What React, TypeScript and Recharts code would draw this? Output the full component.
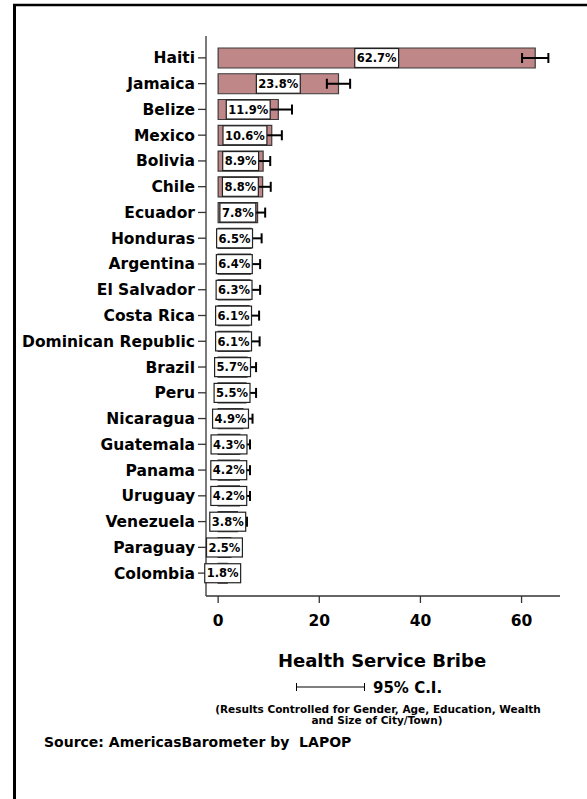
import React from 'react';
import { BarChart, Bar, XAxis, YAxis, ErrorBar, LabelList } from 'recharts';

const countries = [
  'Haiti', 'Jamaica', 'Belize', 'Mexico', 'Bolivia', 'Chile', 'Ecuador', 'Honduras',
  'Argentina', 'El Salvador', 'Costa Rica', 'Dominican Republic', 'Brazil', 'Peru',
  'Nicaragua', 'Guatemala', 'Panama', 'Uruguay', 'Venezuela', 'Paraguay', 'Colombia',
];
const bribeValues = [
  62.7, 23.8, 11.9, 10.6, 8.9, 8.8, 7.8, 6.5, 6.4, 6.3, 6.1, 6.1, 5.7, 5.5, 4.9, 4.3, 4.2, 4.2, 3.8, 2.5, 1.8,
];
const ciHalfWidths = [
  2.6, 2.3, 2.7, 2.0, 1.4, 1.6, 1.5, 2.1, 1.9, 2.0, 2.0, 2.1, 1.8, 2.0, 1.9, 2.0, 2.1, 2.1, 1.9, 1.4, 1.1,
];
const xTicks = [0, 20, 40, 60];

const data = countries.map((name, i) => ({ name, value: bribeValues[i], err: ciHalfWidths[i] }));

const FONT = '"DejaVu Sans", sans-serif';

const charW: Record<string, number> = { '.': 0.38, '%': 1.002 };
const textWidth = (s: string, size: number) =>
  s.split('').reduce((acc, c) => acc + (charW[c] ?? 0.696), 0) * size;

const ValueBox = (props: any) => {
  const vb = props.viewBox && props.viewBox.width !== undefined ? props.viewBox : props;
  const { x, y, width, height } = vb;
  const value = props.value;
  if (x == null || value == null) return null;
  const label = `${Number(value).toFixed(1)}%`;
  const bw = textWidth(label, 11.5) + 4;
  const cx = x + width / 2;
  return (
    <g>
      <rect x={cx - bw / 2} y={y + 0.5} width={bw} height={height - 1} fill="#ffffff" stroke="#222" strokeWidth={1.2} />
      <text
        x={cx}
        y={y + height / 2}
        dy="0.37em"
        textAnchor="middle"
        fontSize={11.5}
        fontWeight="bold"
        fontFamily={FONT}
        fill="#000"
      >
        {label}
      </text>
    </g>
  );
};

export default function App() {
  return (
    <div style={{ position: 'absolute', left: 0, top: 0, width: 587, height: 799, background: '#fff', overflow: 'hidden' }}>
      <BarChart
        width={587}
        height={799}
        data={data}
        layout="vertical"
        margin={{ top: 36, right: 27, bottom: 163, left: 10 }}
        barCategoryGap={0}
      >
        <XAxis
          type="number"
          domain={[-2.4, 67.6]}
          ticks={xTicks}
          allowDataOverflow
          height={40}
          tickSize={7}
          tickMargin={12}
          axisLine={{ stroke: '#333', strokeWidth: 1.3 }}
          tickLine={{ stroke: '#333', strokeWidth: 1.3 }}
          tick={{ fontSize: 15.5, fontWeight: 'bold', fill: '#000', fontFamily: FONT }}
        />
        <YAxis
          type="category"
          dataKey="name"
          width={196}
          padding={{ top: 9, bottom: 10 }}
          interval={0}
          tickSize={8}
          tickMargin={3}
          axisLine={{ stroke: '#333', strokeWidth: 1.3 }}
          tickLine={{ stroke: '#333', strokeWidth: 1.3 }}
          tick={{ fontSize: 15.5, fontWeight: 'bold', fill: '#000', fontFamily: FONT }}
        />
        <Bar dataKey="value" fill="#BF8787" stroke="#3a3a3a" strokeWidth={1.2} barSize={20} isAnimationActive={false}>
          <ErrorBar dataKey="err" direction="x" width={5} stroke="#000" strokeWidth={2} isAnimationActive={false} />
          <LabelList dataKey="value" content={ValueBox} />
        </Bar>
      </BarChart>
      <svg width={587} height={799} style={{ position: 'absolute', left: 0, top: 0, pointerEvents: 'none' }}>
        <line x1={14.5} y1={4} x2={14.5} y2={799} stroke="#000" strokeWidth={3} />
        <line x1={13} y1={5} x2={587} y2={5} stroke="#000" strokeWidth={2.5} />
        <text x={382} y={667} textAnchor="middle" fontSize={18} fontWeight="bold" fontFamily={FONT} fill="#000">
          Health Service Bribe
        </text>
        <line x1={296} y1={687} x2={365} y2={687} stroke="#000" strokeWidth={1} />
        <line x1={296.5} y1={683} x2={296.5} y2={691} stroke="#000" strokeWidth={1} />
        <line x1={364.5} y1={683} x2={364.5} y2={691} stroke="#000" strokeWidth={1} />
        <text x={373} y={693} fontSize={15} fontWeight="bold" fontFamily={FONT} fill="#000">
          95% C.I.
        </text>
        <text x={378} y={713} textAnchor="middle" fontSize={10.5} fontWeight="bold" fontFamily={FONT} fill="#000">
          (Results Controlled for Gender, Age, Education, Wealth
        </text>
        <text x={377} y={724} textAnchor="middle" fontSize={10.5} fontWeight="bold" fontFamily={FONT} fill="#000">
          and Size of City/Town)
        </text>
        <text x={44} y={747} fontSize={14} fontWeight="bold" fontFamily={FONT} fill="#000">
          {'Source: AmericasBarometer by\u00A0 LAPOP'}
        </text>
      </svg>
    </div>
  );
}
